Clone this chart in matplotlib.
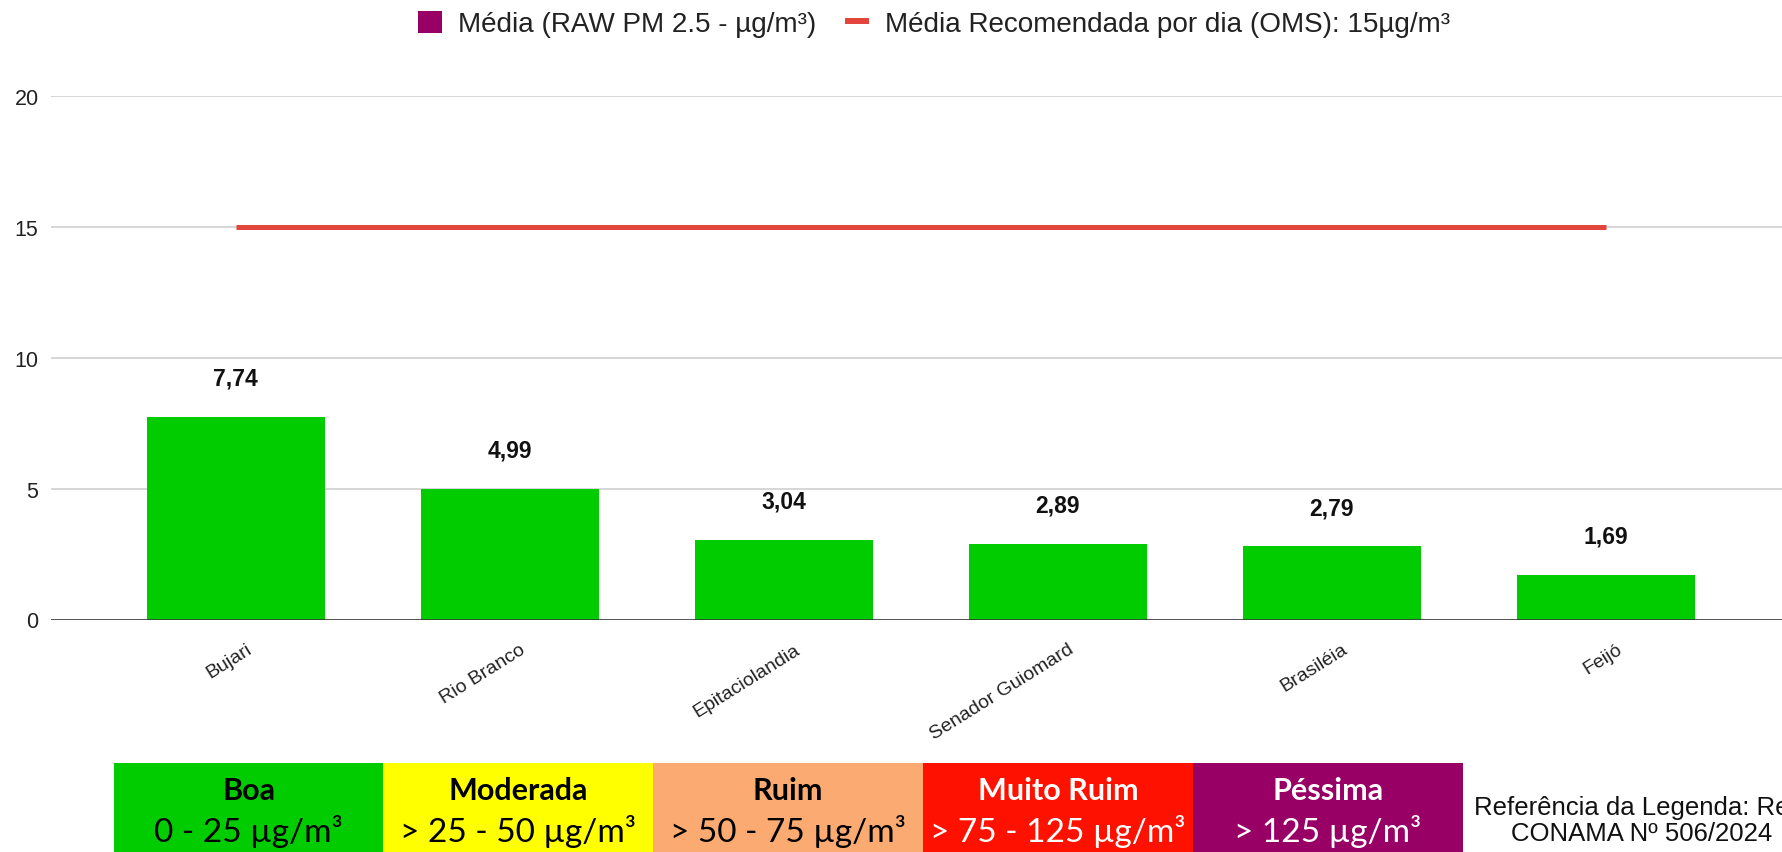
import matplotlib
matplotlib.use('Agg')
import matplotlib.pyplot as plt
from matplotlib.patches import Patch
from matplotlib.lines import Line2D
from matplotlib.transforms import ScaledTranslation

# dados do grafico
cidades = ['Bujari', 'Rio Branco', 'Epitaciolandia', 'Senador Guiomard', 'Brasiléia', 'Feijó']
media_pm25 = [7.74, 4.99, 3.04, 2.89, 2.79, 1.69]
limite_oms = [15, 15, 15, 15, 15, 15]
yticks = [0, 5, 10, 15, 20]

# faixas de qualidade do ar (CONAMA)
faixas = ['Boa', 'Moderada', 'Ruim', 'Muito Ruim', 'Péssima']
faixas_valores = ['0 - 25 µg/m³', '> 25 - 50 µg/m³', '> 50 - 75 µg/m³', '> 75 - 125 µg/m³', '> 125 µg/m³']
faixas_cores = ['#00cc00', '#ffff00', '#fbaa72', '#ff1100', '#990066']
faixas_texto = ['black', 'black', 'black', 'white', 'white']

plt.rcParams['font.family'] = ['Liberation Sans', 'DejaVu Sans']

fig = plt.figure(figsize=(17.82, 8.53), dpi=100)
ax = fig.add_axes([51 / 1782, 1 - 620.5 / 853, 1 - 51 / 1782, (620.5 - 96.6) / 853])

x = list(range(len(cidades)))
ax.bar(x, media_pm25, width=0.65, color='#00cc00', zorder=2)
ax.plot(x, limite_oms, color='#e2453c', linewidth=3.6, solid_capstyle='butt', zorder=3)

for xi, v in zip(x, media_pm25):
    ax.annotate(f'{v:.2f}'.replace('.', ','), (xi, v), xytext=(0, 28), textcoords='offset points',
                ha='center', va='center', fontsize=16.5, fontweight='bold', color='#111111')

ax.set_xlim(-0.674, 5.643)
ax.set_ylim(0, 20)
ax.set_yticks(yticks)
ax.yaxis.grid(True, color='#cccccc', linewidth=1.1, zorder=0)
ax.axhline(0, color='#333333', linewidth=1.4, alpha=0.8, zorder=4)
for s in ax.spines.values():
    s.set_visible(False)
ax.tick_params(axis='y', length=0, pad=9, labelsize=15.5, labelcolor='#222222')
ax.tick_params(axis='x', length=0, pad=15, labelsize=14, labelcolor='#222222')
ax.set_xticks(x)
ax.set_xticklabels(cidades)
offset = ScaledTranslation(10 / 100, 0, fig.dpi_scale_trans)
for lbl in ax.get_xticklabels():
    lbl.set_rotation(32)
    lbl.set_ha('right')
    lbl.set_rotation_mode('anchor')
    lbl.set_transform(lbl.get_transform() + offset)

handles = [Patch(facecolor='#990066', edgecolor='none', label='Média (RAW PM 2.5 - µg/m³)'),
           Line2D([0], [0], color='#e2453c', linewidth=4.3, solid_capstyle='butt',
                  label='Média Recomendada por dia (OMS): 15µg/m³')]
fig.legend(handles=handles, loc='center', bbox_to_anchor=(934 / 1782, 1 - 25 / 853), ncols=2,
           frameon=False, fontsize=20.1, handlelength=0.86, handleheight=0.86,
           handletextpad=0.6, columnspacing=1.0, labelcolor='#222222')

# faixa de legenda no rodape
axb = fig.add_axes([113.6 / 1782, 0, (1462.7 - 113.6) / 1782, (853 - 763.7) / 853])
pos = list(range(len(faixas)))
axb.bar(pos, [1] * len(faixas), width=1, color=faixas_cores, align='center')
axb.set_xlim(-0.5, len(faixas) - 0.5)
axb.set_ylim(0, 1)
axb.axis('off')
for p, nome, faixa, cor in zip(pos, faixas, faixas_valores, faixas_texto):
    axb.text(p, 0.69, nome, ha='center', va='center', fontsize=22, fontweight='bold',
             color=cor, family='Lato')
    axb.text(p, 0.24, faixa, ha='center', va='center', fontsize=24, color=cor, family='Lato')

# referencia (cortada na borda, como no original)
fig.text(1474 / 1782, 1 - 808 / 853, 'Referência da Legenda: Resolução',
         ha='left', va='center', fontsize=18.5, color='#111111')
fig.text(1511 / 1782, 1 - 834 / 853, 'CONAMA Nº 506/2024',
         ha='left', va='center', fontsize=18.5, color='#111111')

fig.savefig('out.png', dpi=100)
